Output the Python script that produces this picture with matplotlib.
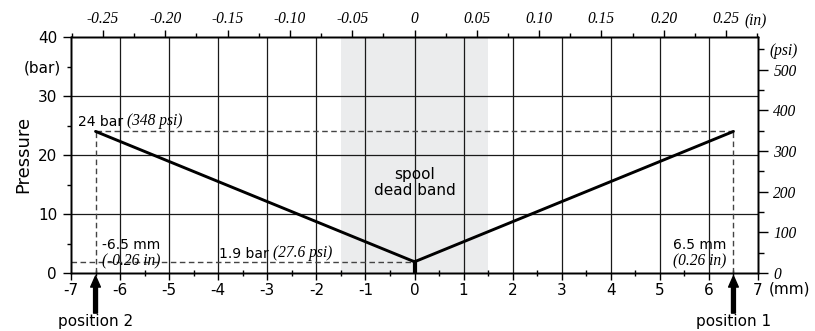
import matplotlib.pyplot as plt

plt.rcParams['font.family'] = 'DejaVu Sans'
plt.rcParams['axes.unicode_minus'] = False

# dane z wykresu
position_mm = [-6.5, 0.0, 6.5]
pressure_bar = [24.0, 1.9, 24.0]
dead_band_mm = [-1.5, 1.5]
max_pressure_bar = 24.0
min_pressure_bar = 1.9
stroke_mm = 6.5

mm_ticks = list(range(-7, 8))
mm_labels = [str(v) for v in mm_ticks]
in_ticks = [-0.25, -0.20, -0.15, -0.10, -0.05, 0.0, 0.05, 0.10, 0.15, 0.20, 0.25]
in_labels = ['-0.25', '-0.20', '-0.15', '-0.10', '-0.05', '0',
             '0.05', '0.10', '0.15', '0.20', '0.25']
bar_ticks = [0, 10, 20, 30, 40]
psi_ticks = [0, 100, 200, 300, 400, 500]

BAR_TO_PSI = 14.5038
MM_PER_IN = 25.4

serif_it = dict(family='Liberation Serif', style='italic', size=11.2)
note_size = 10

fig = plt.figure(figsize=(8.15, 3.31), dpi=100)
ax = fig.add_axes([71 / 815, 58 / 331, 687 / 815, 236 / 331])

ax.set_xlim(-7, 7)
ax.set_ylim(0, 40)

# strefa martwa suwaka
ax.axvspan(dead_band_mm[0], dead_band_mm[1], color='#ebeced', lw=0, zorder=0.5)

# siatka
for x in range(-6, 7):
    ax.axvline(x, color='#1a1a1a', lw=0.9, zorder=1)
for y in [10, 20, 30]:
    ax.axhline(y, color='#1a1a1a', lw=0.9, zorder=1)

# linie pomocnicze
dash = dict(color='#444444', lw=1, ls=(0, (4, 2.5)), zorder=2)
ax.plot([-stroke_mm, stroke_mm], [max_pressure_bar, max_pressure_bar], **dash)
ax.plot([-stroke_mm, -stroke_mm], [0, max_pressure_bar], **dash)
ax.plot([stroke_mm, stroke_mm], [0, max_pressure_bar], **dash)
ax.plot([-7, 0], [min_pressure_bar, min_pressure_bar], **dash)

# charakterystyka
ax.plot(position_mm, pressure_bar, color='black', lw=2.1, zorder=3,
        solid_capstyle='round', solid_joinstyle='round')
ax.plot([0, 0], [0, min_pressure_bar], color='black', lw=3, zorder=3)

# osie dolna / lewa
ax.set_xticks(mm_ticks, labels=mm_labels)
ax.set_xticks([v + 0.5 for v in range(-7, 7)], minor=True)
ax.set_yticks(bar_ticks, labels=[str(v) for v in bar_ticks])
ax.set_yticks([5, 15, 25, 35], labels=['', '', '', '(bar)'], minor=True)
ax.tick_params(axis='x', which='major', direction='out', length=5, width=1,
               labelsize=11, pad=2)
ax.tick_params(axis='x', which='minor', direction='inout', length=5, width=1)
ax.tick_params(axis='y', which='major', direction='out', length=6, width=1,
               labelsize=11, pad=4)
ax.tick_params(axis='y', which='minor', direction='out', length=3, width=1,
               labelsize=11, pad=4)
fig.text(23 / 815, 1 - 154 / 331, 'Pressure', fontsize=13, rotation=90,
         ha='center', va='center')
ax.annotate('(mm)', xy=(7, 0), xytext=(11, -16), textcoords='offset pixels',
            ha='left', va='center', fontsize=11, annotation_clip=False)

# os gorna (cale)
ax_top = ax.twiny()
ax_top.set_xlim(-7 / MM_PER_IN, 7 / MM_PER_IN)
ax_top.set_xticks(in_ticks, labels=in_labels)
ax_top.set_xticks([v + 0.025 for v in in_ticks[:-1]] + [-0.275, 0.275], minor=True)
ax_top.tick_params(axis='x', which='major', direction='out', length=5, width=1, pad=2)
ax_top.tick_params(axis='x', which='minor', direction='out', length=3, width=1)
for lab in ax_top.get_xticklabels():
    lab.set(**serif_it)
ax_top.annotate('(in)', xy=(0.25, 1), xycoords=('data', 'axes fraction'),
                xytext=(18, 16), textcoords='offset pixels', ha='left', va='center',
                annotation_clip=False, **serif_it)

# os prawa (psi)
ax_r = ax.twinx()
ax_r.set_ylim(0, 40 * BAR_TO_PSI)
ax_r.set_yticks(psi_ticks, labels=[str(v) for v in psi_ticks])
ax_r.set_yticks([50, 150, 250, 350, 450, 550],
                labels=['', '', '', '', '', '(psi)'], minor=True)
ax_r.tick_params(axis='y', which='major', direction='out', length=7, width=1, pad=4)
ax_r.tick_params(axis='y', which='minor', direction='out', length=4, width=1, pad=4)
for lab in ax_r.get_yticklabels() + ax_r.get_yticklabels(minor=True):
    lab.set(**serif_it)

for a in (ax, ax_top, ax_r):
    for s in a.spines.values():
        s.set_linewidth(1)


def two_part(x, y, sans, italic):
    # tekst bezszeryfowy + kursywa szeryfowa w jednej linii
    t1 = ax.text(x, y, sans, fontsize=note_size, ha='left', va='baseline')
    ax.annotate(italic, xy=(1, 0), xycoords=t1, ha='left', va='bottom',
                annotation_clip=False, **serif_it)


two_part(-6.86, 24.9, '24 bar ', '(348 psi)')
two_part(-3.98, 2.5, '1.9 bar ', '(27.6 psi)')

ax.text(-5.77, 4.1, '-6.5 mm', fontsize=note_size, ha='center', va='baseline')
ax.text(-5.77, 1.35, '(-0.26 in)', ha='center', va='baseline', **serif_it)
ax.text(5.82, 4.1, '6.5 mm', fontsize=note_size, ha='center', va='baseline')
ax.text(5.82, 1.35, '(0.26 in)', ha='center', va='baseline', **serif_it)
ax.text(0, 15.3, 'spool\ndead band', fontsize=11, ha='center', va='center',
        linespacing=1.1)

# strzalki pozycji
for x, name in [(-stroke_mm, 'position 2'), (stroke_mm, 'position 1')]:
    ax.annotate('', xy=(x, -0.5), xytext=(x, -6.8),
                arrowprops=dict(facecolor='black', edgecolor='black', width=2.8,
                                headwidth=7, headlength=8, shrink=0),
                annotation_clip=False)
    ax.text(x, -8.3, name, fontsize=11, ha='center', va='center', clip_on=False)

fig.savefig('out.png', dpi=100)
